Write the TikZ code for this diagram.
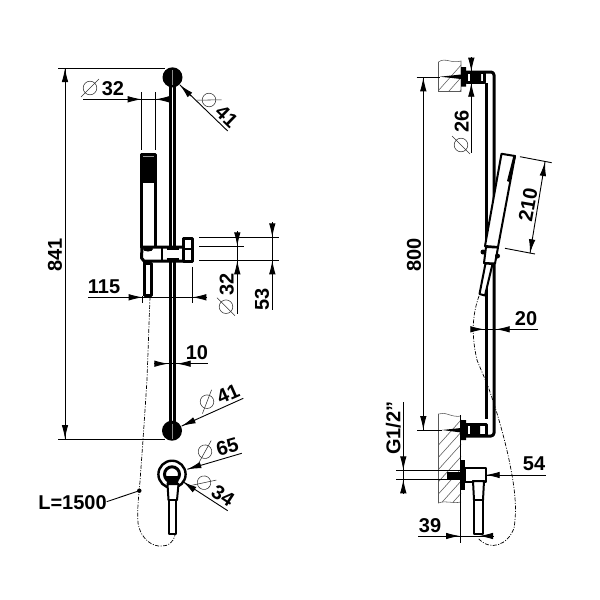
\documentclass[tikz,border=0pt]{standalone}
\usepackage{fontspec}
\setmainfont{Liberation Sans}
\usetikzlibrary{arrows.meta}
\tikzstyle{dimline}=[draw,line width=0.9pt]
\tikzstyle{dimtip}=[draw,line width=0.9pt,-{Latex[length=14pt,width=6.5pt]}]
\tikzstyle{dimlabel}=[font=\bfseries\fontsize{20}{20}\selectfont,inner sep=0pt]
\tikzstyle{heavy}=[draw,line width=3pt,line join=round]
\tikzstyle{medium}=[draw,line width=2pt,line join=round]
\tikzstyle{hose}=[draw,line width=0.7pt,dash pattern=on 4pt off 1.5pt on 1pt off 1.5pt]
\tikzstyle{symbol}=[draw,line width=0.55pt,black!80]
\tikzstyle{wall}=[draw,line width=0.55pt,black!65]

\begin{document}
\begin{tikzpicture}[x=1pt,y=-1pt]
\useasboundingbox (0,0) rectangle (600,600);

    % front view, rail and round mounts
    \path[heavy] (170,77) -- (170,430);
    \path[heavy] (174.7,77) -- (174.7,430);
    \fill[black] (172.5,77.3) circle (10);
    \fill[black] (172,430.7) circle (10);
    \draw[black!45,line width=0.7pt] (172.4,70.3) -- (172.4,85.3);
    \draw[black!45,line width=0.7pt] (172.4,423.7) -- (172.4,438.7);

    % front view, hand shower and slider
    \path[heavy] (141.5,154.5) -- (155.5,154.5) -- (155.5,247) -- (141.5,247) -- cycle;
    \fill[black] (140.2,157) rectangle (156.8,183);
    \draw[black!40,line width=1pt] (143,156) -- (154,156);
    \path[heavy,fill=white] (142,247) -- (192,247) -- (192,261) -- (144,261) -- (141.5,258) -- cycle;
    \path[heavy,fill=white] (183.5,238) rectangle (192,261);
    \path[medium] (183.5,249) -- (192,249);
    \path[medium] (162,247) -- (162,261);
    \fill[white] (166.5,250.5) rectangle (178.5,257.5);
    \path[medium] (166.5,249) -- (178.5,249) (166.5,258.5) -- (178.5,258.5);
    \fill[black] (148,249) ellipse (5 and 2.5);
    \path[heavy,fill=white] (144.2,263) rectangle (151.8,295.5);
    \fill[black] (142.5,262) rectangle (145.5,296);

    % front view, outlet
    \draw[line width=2.4pt] (172,474.3) circle (13.6);
    \draw[line width=3pt] (172,474.3) circle (7.5);
    \path[medium,fill=white] (167.5,484) -- (178.5,484) -- (177,500) -- (168.5,500) -- cycle;
    \path[medium,fill=white] (168.7,500) rectangle (175.8,533.5);
    \fill[black] (166,476) -- (179,476) -- (178,484) -- (167,484) -- cycle;

    % side view, walls
    \begin{scope}
        \clip (438.5,62) .. controls (445,57) and (452,64) .. (461,61) -- (461,91.5) -- (438.5,91.5) -- cycle;
        \foreach \i in {0,11,...,77}
            \draw[wall] (430+\i,100) -- (470+\i,55);
    \end{scope}
    \begin{scope}
        \clip (438.5,414) .. controls (445,411) and (452,418) .. (461,416) -- (461,502) .. controls (452,504) and (446,500) .. (438.5,503) -- cycle;
        \foreach \i in {0,11,...,143}
            \draw[wall] (380+\i,510) -- (470+\i,410);
    \end{scope}
    \path[wall] (438.5,62) .. controls (445,57) and (452,64) .. (461,61) -- (461,91.5) -- (438.5,91.5) -- cycle;
    \path[wall] (461,416) .. controls (452,418) and (445,411) .. (438.5,414) -- (438.5,503) .. controls (446,500) and (452,504) .. (461,502);
    \path[dimline] (460.5,415) -- (460.5,543);

    % side view, rail and brackets
    \path[heavy] (486,83) -- (486,419);
    \path[heavy,rounded corners=3pt] (466,72) -- (494,72) -- (494,436) -- (466,436);
    \path[heavy,fill=white] (466,72.5) rectangle (484.5,82.5);
    \path[heavy,fill=white] (466,424) rectangle (486,435);
    \fill[black] (470,72) rectangle (481,82) (470,424) rectangle (480,435);
    \fill[black] (461,67) rectangle (466,86.5) (461,420) rectangle (466,440);
    \fill[black] (440,76.7) -- (461,74.5) -- (461,79) -- cycle;
    \fill[black] (442,430) -- (461,428) -- (461,432.5) -- cycle;

    % side view, hand shower
    \path[medium,fill=white] (501.5,153.8) -- (515,156) -- (498,247) -- (485,246) -- cycle;
    \fill[black] (513.5,155.5) -- (516,156) -- (509.5,182) -- (507,181) -- cycle;
    \path[medium,fill=white] (486,247) -- (498,247.5) -- (495,263.5) -- (484,263) -- cycle;
    \fill[black] (483,252) circle (2.5) (497.5,256) circle (2.5);
    \path[medium,fill=white] (485.5,263.5) -- (492.5,264) -- (485,295.5) -- (479.5,294) -- cycle;

    % side view, outlet
    \path[medium,fill=white] (465,467.5) rectangle (485.5,481.5);
    \fill[black] (460,460) rectangle (465,490);
    \fill[black] (446.7,471.7) rectangle (460,479.3);
    \path[medium,fill=white] (473,481) -- (484,481) -- (483,500) -- (474,500) -- cycle;
    \path[medium,fill=white] (474.3,500) rectangle (482.5,533.5);

    % hoses
    \path[hose] (150,297) -- (147,380) -- (143,440) -- (139.3,490.7) .. controls (137.5,505) and (137.5,515) .. (138,523) .. controls (141,540) and (153,547) .. (162,546) .. controls (168,546) and (173,543) .. (175,535);
    \path[hose] (479,296) .. controls (474,310) and (470,330) .. (477,360) .. controls (483,375) and (488,385) .. (490,392) .. controls (497,412) and (503,433) .. (508,455) .. controls (513,478) and (518,505) .. (514,528) .. controls (508,545) and (490,552) .. (478,538);
    \fill[black] (139.3,490.7) circle (2.2);
    \coordinate (hosedot) at (139.3,490.7);

    % plain dimension lines and witness lines
    \foreach \a/\b in {{(83,99.3)/(168,99.3)},{(141.7,92)/(141.7,150)},{(155.3,92)/(155.3,150)},
                       {(58,68)/(165,68)},{(58,439)/(165,439)},{(65,68)/(65,439)},
                       {(180,85)/(227.7,131)},{(199.3,237.3)/(279,237.3)},{(199.3,246.3)/(243.7,246.3)},
                       {(199.3,260.3)/(279,260.3)},{(237.3,232)/(237.3,314)},{(272.3,223)/(272.3,310)},
                       {(88,297.3)/(207,297.3)},{(142.7,296)/(142.7,303)},{(192.3,266.7)/(192.3,303)},
                       {(155,363.7)/(208,363.7)},{(181.7,426)/(243.3,398.3)},{(187.3,469.3)/(241.7,453.3)},
                       {(183,481.7)/(227.7,510.7)},{(106.7,501.7)/(139.3,490.7)},
                       {(416.7,77.3)/(440,77.3)},{(417,430)/(442,430)},{(423.3,77.3)/(423.3,430)},
                       {(471.3,57)/(471.3,152.7)},{(520,156.7)/(551.7,162.7)},{(505,248.3)/(535,254)},
                       {(471.7,329.3)/(538,329.3)},{(396,470.3)/(461,470.3)},{(396,479.3)/(461,479.3)},
                       {(403.3,402)/(403.3,493)},{(485.7,475)/(545.7,475)},{(418,536)/(493,536)}}
        \path[dimline] \a -- \b;

    % arrow heads, from tail to tip
    \foreach \a/\b in {{(127,99.3)/(141.7,99.3)},{(169,99.3)/(155.3,99.3)},{(65,83)/(65,68)},{(65,424)/(65,439)},
                       {(191,96)/(180,85)},{(237.3,231)/(237.3,246.3)},{(237.3,275)/(237.3,260.3)},
                       {(272.3,222)/(272.3,237.3)},{(272.3,275)/(272.3,260.3)},{(127,297.3)/(142.7,297.3)},
                       {(207,297.3)/(192.3,297.3)},{(154,363.7)/(168.3,363.7)},{(190,363.7)/(176.7,363.7)},
                       {(195,420)/(181.7,426)},{(201,465)/(187.3,469.3)},{(195,490)/(183,481.7)},
                       {(423.3,92)/(423.3,77.3)},{(423.3,415)/(423.3,430)},{(471.3,57)/(471.3,71.7)},
                       {(471.3,96)/(471.3,82.7)},{(542.8,176)/(545,162)},{(532.2,239)/(530,253.3)},
                       {(471,329.3)/(484.3,329.3)},{(509.3,329.3)/(495.7,329.3)},{(403.3,455)/(403.3,470.3)},
                       {(403.3,494)/(403.3,479.3)},{(499.5,475)/(485.7,475)},{(446,536)/(460,536)},{(493,536)/(479,536)}}
        \path[dimtip] \a -- \b;
    \path[dimline] (545,162) -- (530,253.3);

    % diameter signs
    \foreach \px/\py/\rot in {90/88/0,209/100/-44,226/306.7/90,207/401.7/24,205/451.7/16,204/482.7/-33,461/145/90}{
        \begin{scope}[shift={(\px,\py)},rotate=\rot]
            \path[symbol] (0,0) circle (6.8);
            \path[symbol] (-9,9) -- (9,-9);
        \end{scope}
    }

    % dimension texts
    \foreach \pos/\name/\txt/\rot in {{(113,89)/lbla/32/0},{(226.7,116.7)/lblb/41/-44},{(55,255)/lblc/841/90},
                                      {(226.7,284)/lbld/32/90},{(262,299)/lble/53/90},{(104,287)/lblf/115/0},
                                      {(197,353)/lblg/10/0},{(228,394)/lblh/41/24},{(227.3,446.7)/lbli/65/16},
                                      {(223,496)/lblj/34/-33},{(72.5,503)/lblk/L=1500/0},{(414,255)/lbll/800/90},
                                      {(461.7,121.7)/lblm/26/90},{(528,205)/lbln/210/80},{(526,319)/lblo/20/0},
                                      {(393.3,428)/lblp/{G1/2"}/90},{(534,464)/lblq/54/0},{(430,526)/lblr/39/0}}
        \node[dimlabel,rotate=\rot] (\name) at \pos {\txt};

\end{tikzpicture}
\end{document}
